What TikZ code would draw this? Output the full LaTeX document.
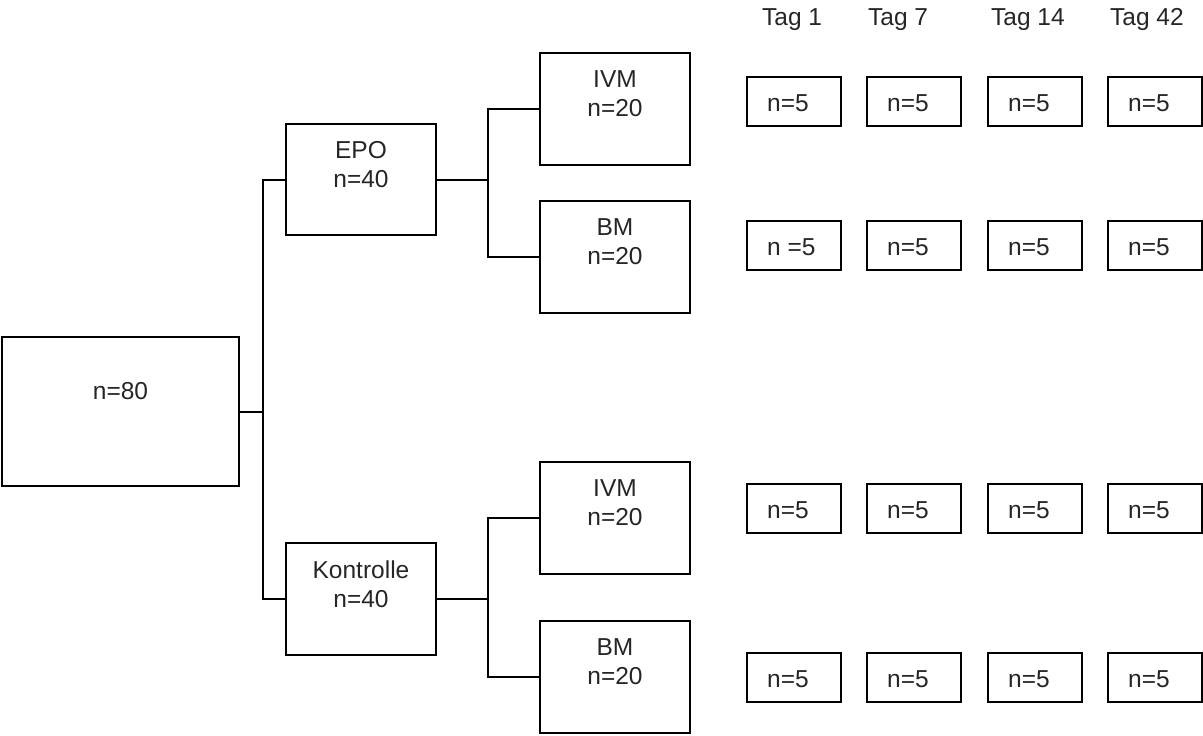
\documentclass[tikz,border=0pt]{standalone}
\usepackage{fontspec}
\setmainfont{Liberation Sans}
\begin{document}
\begin{tikzpicture}[x=1pt,y=-1pt,
  every node/.style={font=\fontsize{24.5}{29}\selectfont, text=black!85},
  box/.style={draw=black, line width=2pt, inner sep=0pt, minimum width=150pt, minimum height=112pt},
  smallbox/.style={draw=black, line width=2pt, inner sep=0pt, minimum width=94pt, minimum height=49pt},
  lbl/.style={align=center, inner sep=0pt},
  slbl/.style={anchor=west, inner sep=0pt},
  conn/.style={draw=black, line width=2pt}]
\useasboundingbox (0,0) rectangle (1203,736);

% main boxes
\node[box, minimum width=237pt, minimum height=149pt] (big) at (120.5,411.5) {};
\node[box, minimum height=111pt] (epo) at (361,179.5) {};
\node[box] (kon) at (361,599) {};
\node[box] (ivma) at (615,109) {};
\node[box] (bma) at (615,257) {};
\node[box] (ivmb) at (615,518) {};
\node[box] (bmb) at (615,677) {};

% labels inside main boxes
\node[lbl] (bigt) at ([yshift=20pt]big.center) {n=80};
\node[lbl] (epot) at ([yshift=15pt]epo.center) {EPO\\n=40};
\node[lbl] (kont) at ([yshift=15pt]kon.center) {Kontrolle\\n=40};
\node[lbl] (ivmat) at ([yshift=15pt]ivma.center) {IVM\\n=20};
\node[lbl] (bmat) at ([yshift=15pt]bma.center) {BM\\n=20};
\node[lbl] (ivmbt) at ([yshift=15pt]ivmb.center) {IVM\\n=20};
\node[lbl] (bmbt) at ([yshift=15pt]bmb.center) {BM\\n=20};

% connectors
\coordinate (t) at (263,411.5);
\coordinate (e) at (488,179.5);
\coordinate (k) at (488,599);
\draw[conn] (big.east) -- (t);
\draw[conn] (epo.west) -| (t) |- (kon.west);
\draw[conn] (epo.east) -- (e);
\draw[conn] (ivma.west) -| (e) |- (bma.west);
\draw[conn] (kon.east) -- (k);
\draw[conn] (ivmb.west) -| (k) |- (bmb.west);

% header
\node[anchor=base west, inner sep=0pt] (tag1) at (762,25) {Tag 1};
\node[anchor=base west, inner sep=0pt] (tag7) at (868,25) {Tag 7};
\node[anchor=base west, inner sep=0pt] (tag14) at (991,25) {Tag 14};
\node[anchor=base west, inner sep=0pt] (tag42) at (1110,25) {Tag 42};

% small boxes
\foreach \r/\y in {1/101, 2/245.5, 3/508.5, 4/677} {
  \foreach \c/\x in {1/794, 2/914, 3/1035, 4/1155} {
    \node[smallbox] (s\r\c) at (\x,\y) {};
  }
}
\node[slbl] (s11t) at ([xshift=21pt,yshift=-2pt]s11.west) {n=5};
\node[slbl] (s12t) at ([xshift=21pt,yshift=-2pt]s12.west) {n=5};
\node[slbl] (s13t) at ([xshift=21pt,yshift=-2pt]s13.west) {n=5};
\node[slbl] (s14t) at ([xshift=21pt,yshift=-2pt]s14.west) {n=5};
\node[slbl] (s21t) at ([xshift=21pt,yshift=-2pt]s21.west) {n =5};
\node[slbl] (s22t) at ([xshift=21pt,yshift=-2pt]s22.west) {n=5};
\node[slbl] (s23t) at ([xshift=21pt,yshift=-2pt]s23.west) {n=5};
\node[slbl] (s24t) at ([xshift=21pt,yshift=-2pt]s24.west) {n=5};
\node[slbl] (s31t) at ([xshift=21pt,yshift=-2pt]s31.west) {n=5};
\node[slbl] (s32t) at ([xshift=21pt,yshift=-2pt]s32.west) {n=5};
\node[slbl] (s33t) at ([xshift=21pt,yshift=-2pt]s33.west) {n=5};
\node[slbl] (s34t) at ([xshift=21pt,yshift=-2pt]s34.west) {n=5};
\node[slbl] (s41t) at ([xshift=21pt,yshift=-2pt]s41.west) {n=5};
\node[slbl] (s42t) at ([xshift=21pt,yshift=-2pt]s42.west) {n=5};
\node[slbl] (s43t) at ([xshift=21pt,yshift=-2pt]s43.west) {n=5};
\node[slbl] (s44t) at ([xshift=21pt,yshift=-2pt]s44.west) {n=5};
\end{tikzpicture}
\end{document}
